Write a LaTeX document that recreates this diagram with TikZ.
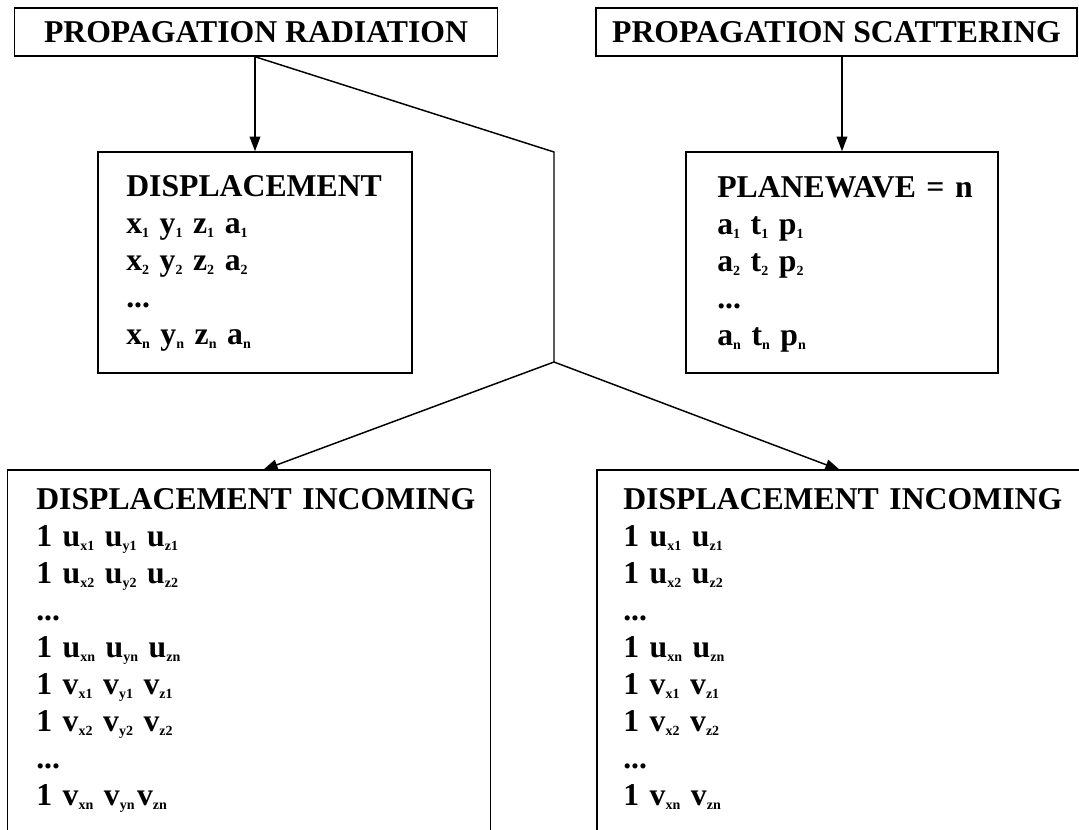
\documentclass[tikz,border=0pt]{standalone}
\usepackage{fontspec}
\setmainfont{Liberation Serif}
\usetikzlibrary{arrows.meta,positioning}
\newcommand{\ix}[1]{\raisebox{-2.3pt}{\fontsize{10.5}{10.5}\selectfont #1}}

\begin{document}
\begin{tikzpicture}[x=0.75pt,y=-0.75pt,
   font=\fontsize{23.8}{27.75}\selectfont\bfseries,
   bx/.style={draw,line width=1.1pt,inner sep=0pt},
   tx/.style={anchor=base west,inner sep=0pt,align=left,text width=400pt},
   a/.style={-{Triangle[length=11pt,width=8pt]},line width=1.1pt},
   ln/.style={line width=1.1pt,line join=miter}]
  \useasboundingbox (0,0) rectangle (1079,830);
  \clip (0,0) rectangle (1079,830);
  \node[bx,minimum width=362pt,minimum height=36pt] (prad) at (256,32) {PROPAGATION RADIATION};
  \node[bx,minimum width=360.75pt,minimum height=36pt] (pscat) at (836.5,32) {PROPAGATION SCATTERING};
  \node[bx,minimum width=235.5pt,minimum height=165.75pt] (disp) at (255,262.5) {};
  \node[bx,minimum width=234pt,minimum height=165.75pt] (pw) at (842,262.5) {};
  \node[bx,minimum width=362pt,minimum height=300pt] (dinc1) at (249,670) {};
  \node[bx,minimum width=377.25pt,minimum height=300pt] (dinc2) at (848.5,670) {};
  \node[tx] (disp-t) at (126,197) {DISPLACEMENT\\
    x\ix{1} y\ix{1} z\ix{1} a\ix{1}\\
    x\ix{2} y\ix{2} z\ix{2} a\ix{2}\\
    ...\\
    x\ix{n} y\ix{n} z\ix{n} a\ix{n}};
  \node[tx] (pw-t) at (717,198) {PLANEWAVE = n\\
    a\ix{1} t\ix{1} p\ix{1}\\
    a\ix{2} t\ix{2} p\ix{2}\\
    ...\\
    a\ix{n} t\ix{n} p\ix{n}};
  \node[tx] (dinc1-t) at (36,510) {DISPLACEMENT INCOMING\\
    1 u\ix{x1} u\ix{y1} u\ix{z1}\\
    1 u\ix{x2} u\ix{y2} u\ix{z2}\\
    ...\\
    1 u\ix{xn} u\ix{yn} u\ix{zn}\\
    1 v\ix{x1} v\ix{y1} v\ix{z1}\\
    1 v\ix{x2} v\ix{y2} v\ix{z2}\\
    ...\\
    1 v\ix{xn} v\ix{yn}\hspace{0.08em}v\ix{zn}};
  \node[tx] (dinc2-t) at (623,510) {DISPLACEMENT INCOMING\\
    1 u\ix{x1} u\ix{z1}\\
    1 u\ix{x2} u\ix{z2}\\
    ...\\
    1 u\ix{xn} u\ix{zn}\\
    1 v\ix{x1} v\ix{z1}\\
    1 v\ix{x2} v\ix{z2}\\
    ...\\
    1 v\ix{xn} v\ix{zn}};
  \coordinate (bend) at (554,152);
  \coordinate (split) at (554,362);
  \coordinate (tipL) at (263,470);
  \coordinate (tipR) at (840,470);
  \draw[a] (prad.south -| disp.north) -- (disp.north);
  \draw[ln] (prad.south -| disp.north) -- (bend) -- (split);
  \draw[a] (split) -- (tipL);
  \draw[a] (split) -- (tipR);
  \draw[a] (pscat.south -| pw.north) -- (pw.north);
\end{tikzpicture}
\end{document}
